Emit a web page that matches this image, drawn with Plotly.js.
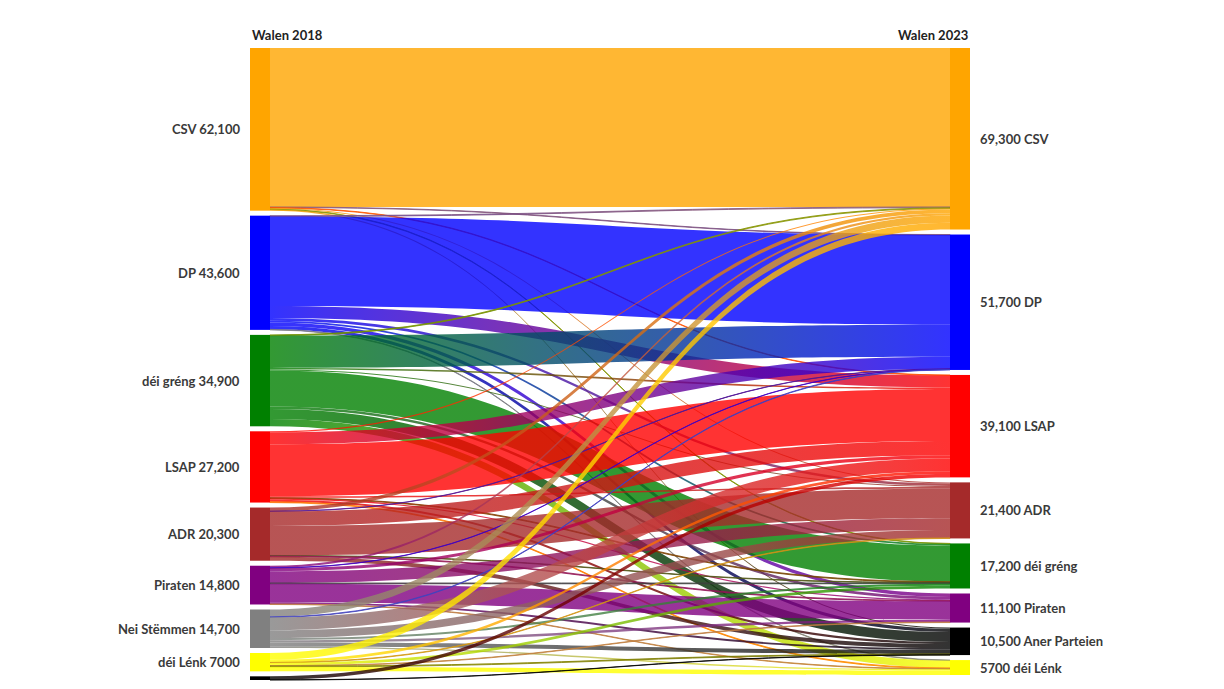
<!DOCTYPE html>
<html><head><meta charset="utf-8">
<script src="https://cdn.plot.ly/plotly-3.0.1.min.js"></script>
<style>html,body{margin:0;padding:0;background:#fff}</style>
</head><body>
<div id="chart" style="width:1224px;height:689px"></div>
<script>
// ---- data ----
const parties2018 = ['CSV','DP','déi gréng','LSAP','ADR','Piraten','Nei Stëmmen','déi Lénk','Aner Parteien'];
const showLabel2018 = [true,true,true,true,true,true,true,true,false];
const parties2023 = ['CSV','DP','LSAP','ADR','déi gréng','Piraten','Aner Parteien','déi Lénk'];
const colors2018 = ['#FFA500','#0000FF','#008000','#FF0000','#A52A2A','#800080','#808080','#FFFF00','#000000'];
const colors2023 = ['#FFA500','#0000FF','#FF0000','#A52A2A','#008000','#800080','#000000','#FFFF00'];
// voter flows from each 2018 party, in the order of parties2023
const fromCSV     = [60700,   200,   200,   400,   200,    0,   400,    0];
const fromDP      = [  300, 34200,  4600,  1000,   700, 1300,  1300,  200];
const fromGreng   = [  300, 12300,   600,   400, 13700, 1000,  3800, 2800];
const fromLSAP    = [  400,  4600, 19800,   600,   300,  400,   800,  300];
const fromADR     = [ 1400,   100,  5500, 11300,   200,  300,  1500,    0];
const fromPiraten = [  800,   100,  1200,  4500,   300, 7000,   700,  200];
const fromNei     = [ 2800,   200,  4900,  3000,   800,  900,  1600,  500];
const fromLenk    = [ 2600,     0,  1000,   200,  1000,  200,   300, 1700];
const fromAner    = [    0,     0,  1300,     0,     0,    0,   100,    0];
const flowRows = [fromCSV, fromDP, fromGreng, fromLSAP, fromADR, fromPiraten, fromNei, fromLenk, fromAner];

// ---- geometry / style ----
const W = 1224, H = 689;
const M = {l: 250, r: 254, t: 48, b: 9};
const plotW = W - M.l - M.r, plotH = H - M.t - M.b;
const thick = 20, pad = 5;
const fontFam = 'Lato, "Open Sans", sans-serif';
const linkAlpha = 0.8;

function hexToRgb(h){h=h.replace('#','');return [parseInt(h.substr(0,2),16),parseInt(h.substr(2,2),16),parseInt(h.substr(4,2),16)];}
function mix(a,b,al){const x=hexToRgb(a),y=hexToRgb(b);return 'rgba('+Math.round((x[0]+y[0])/2)+','+Math.round((x[1]+y[1])/2)+','+Math.round((x[2]+y[2])/2)+','+al+')';}
function fmt(v){return v>=10000 ? v.toLocaleString('en-US') : String(v);}

const n1 = parties2018.length, n2 = parties2023.length;
const val1 = flowRows.map(r => r.reduce((a,b)=>a+b,0));
const val2 = parties2023.map((_,j) => flowRows.reduce((a,r)=>a+r[j],0));
const tot1 = val1.reduce((a,b)=>a+b,0), tot2 = val2.reduce((a,b)=>a+b,0);
const ky = Math.min((plotH-(n1-1)*pad)/tot1, (plotH-(n2-1)*pad)/tot2);

function centers(vals){
  let cum = 0; const out = [];
  vals.forEach((v,i)=>{ out.push((cum*ky + i*pad + v*ky/2)); cum += v; });
  return out;
}
const c1 = centers(val1), c2 = centers(val2);

const src=[], tgt=[], vals=[], lcol=[], srcCol=[], tgtCol=[];
flowRows.forEach((row,i)=>row.forEach((v,j)=>{
  if(v>0){
    src.push(i);tgt.push(n1+j);vals.push(v);
    lcol.push(mix(colors2018[i],colors2023[j],linkAlpha));
    srcCol.push(colors2018[i]);tgtCol.push(colors2023[j]);
  }
}));

const nodeX = parties2018.map(()=>(thick/2)/plotW).concat(parties2023.map(()=>1-(thick/2)/plotW));
const nodeY = c1.map(c=>c/plotH).concat(c2.map(c=>c/plotH));

const trace = {
  type:'sankey', arrangement:'fixed',
  domain:{x:[0,1],y:[0,1]},
  node:{
    label: parties2018.concat(parties2023).map(()=>''),
    customdata: parties2018.concat(parties2023),
    color: colors2018.concat(colors2023),
    thickness: thick, pad: pad,
    line:{width:0},
    x: nodeX, y: nodeY,
    hovertemplate:'%{customdata}: %{value}<extra></extra>'
  },
  link:{source:src,target:tgt,value:vals,color:lcol}
};

const ann = [];
parties2018.forEach((p,i)=>{
  if(!showLabel2018[i]) return;
  ann.push({xref:'paper',yref:'paper',x:0,y:1-c1[i]/plotH,xanchor:'right',yanchor:'middle',xshift:-8,
    text:p+' '+fmt(val1[i]),showarrow:false,font:{family:fontFam,size:13,color:'#3a3a3a',weight:700}});
});
parties2023.forEach((p,j)=>{
  ann.push({xref:'paper',yref:'paper',x:1,y:1-c2[j]/plotH,xanchor:'left',yanchor:'middle',xshift:8,
    text:fmt(val2[j])+' '+p,showarrow:false,font:{family:fontFam,size:13,color:'#3a3a3a',weight:700}});
});
ann.push({xref:'paper',yref:'paper',x:0,y:1,xanchor:'left',yanchor:'bottom',yshift:3,text:'Walen 2018',showarrow:false,font:{family:fontFam,size:13,color:'#222',weight:700}});
ann.push({xref:'paper',yref:'paper',x:1,y:1,xanchor:'right',yanchor:'bottom',yshift:3,text:'Walen 2023',showarrow:false,font:{family:fontFam,size:13,color:'#222',weight:700}});

// colour each link with a gradient from its source colour to its target colour
function applyGradients(){
  const paths = document.querySelectorAll('#chart path.sankey-link');
  paths.forEach((p,k)=>{
    const d = p.__data__;
    let idx = (d && d.link && d.link.pointNumber !== undefined) ? d.link.pointNumber : k;
    if(idx === undefined || idx >= src.length) return;
    const svg = p.ownerSVGElement;
    let defs = svg.querySelector('defs.linkgrads');
    if(!defs){
      defs = document.createElementNS('http://www.w3.org/2000/svg','defs');
      defs.setAttribute('class','linkgrads');
      svg.insertBefore(defs, svg.firstChild);
    }
    const id = 'lg'+idx;
    if(!defs.querySelector('#'+id)){
      const g = document.createElementNS('http://www.w3.org/2000/svg','linearGradient');
      g.setAttribute('id',id);
      g.setAttribute('x1','0');g.setAttribute('x2','1');g.setAttribute('y1','0');g.setAttribute('y2','0');
      [[0,srcCol[idx]],[1,tgtCol[idx]]].forEach(([o,c])=>{
        const s = document.createElementNS('http://www.w3.org/2000/svg','stop');
        s.setAttribute('offset',o);s.setAttribute('stop-color',c);
        g.appendChild(s);
      });
      defs.appendChild(g);
    }
    p.style.fill = 'url(#'+id+')';
    p.style.fillOpacity = linkAlpha;
  });
}

Plotly.newPlot('chart',[trace],{
  width:W,height:H,margin:M,paper_bgcolor:'#fff',plot_bgcolor:'#fff',
  font:{family:fontFam},annotations:ann,showlegend:false
},{displayModeBar:false}).then(applyGradients);
document.getElementById('chart').on && document.getElementById('chart').on('plotly_afterplot', applyGradients);
</script>
</body></html>
